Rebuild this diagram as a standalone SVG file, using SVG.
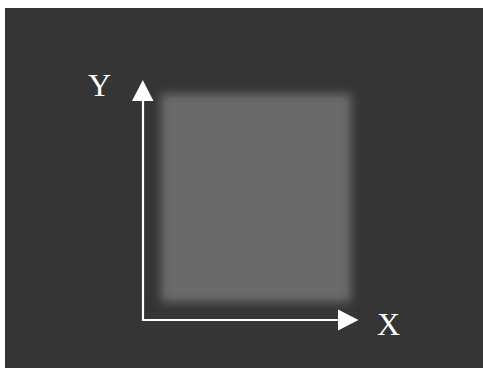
<svg xmlns="http://www.w3.org/2000/svg" width="483" height="369" viewBox="0 0 483 369">
  <defs>
    <style>
      .axis { stroke: #ffffff; stroke-width: 2.2; fill: none; }
      .head { fill: #ffffff; }
      .lbl { font-family: "Liberation Serif", "Times New Roman", serif; font-size: 32px; fill: #ffffff; }
    </style>
    <filter id="blur" x="-20%" y="-20%" width="140%" height="140%">
      <feGaussianBlur stdDeviation="5"/>
    </filter>
  </defs>
  <rect x="0" y="0" width="483" height="369" fill="#ffffff"/>
  <rect x="5" y="8" width="478" height="360" fill="#353535"/>
  <g id="square">
    <rect x="161" y="94" width="190" height="208" fill="#6b6b6b" filter="url(#blur)"/>
  </g>
  <g id="connectors">
    <line class="axis" x1="143" y1="321" x2="143" y2="98"/>
    <polygon class="head" points="132,101 153.5,101 142.8,80"/>
    <line class="axis" x1="142" y1="320" x2="340" y2="320"/>
    <polygon class="head" points="338,309.5 338,330.5 358.5,320"/>
  </g>
  <g id="labelY">
    <text class="lbl" x="88" y="96">Y</text>
  </g>
  <g id="labelX">
    <text class="lbl" x="377" y="335">X</text>
  </g>
</svg>
